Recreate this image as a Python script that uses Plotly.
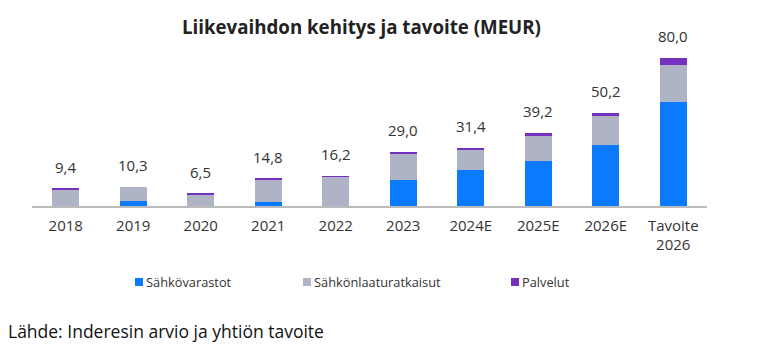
import plotly.graph_objects as go

# Revenue development by segment (MEUR)
categories = ["2018", "2019", "2020", "2021", "2022", "2023",
              "2024E", "2025E", "2026E", "Tavoite<br>2026"]
storage = [0.0, 2.7, 0.0, 2.2, 0.0, 14.0, 19.6, 24.5, 33.2, 56.0]
power_quality = [9.1, 7.6, 6.2, 12.3, 15.9, 14.5, 11.0, 13.6, 15.2, 20.0]
services = [0.3, 0.0, 0.3, 0.3, 0.3, 0.5, 0.8, 1.1, 1.8, 4.0]
totals = [9.4, 10.3, 6.5, 14.8, 16.2, 29.0, 31.4, 39.2, 50.2, 80.0]

series_names = ["Sähkövarastot", "Sähkönlaaturatkaisut", "Palvelut"]
series_colors = ["#0A7BFF", "#AEB3C5", "#7431BF"]

FONT = "Open Sans"
W, H = 784, 345
ML, MR, MT, MB = 32, 77, 40, 139
PW, PH = W - ML - MR, H - MT - MB

fig = go.Figure()
for name, vals, col in zip(series_names, [storage, power_quality, services], series_colors):
    fig.add_trace(go.Bar(x=categories, y=vals, name=name, marker_color=col,
                         marker_line_width=0, width=0.4, showlegend=False))

# total labels above each stack (category positions by index)
for i, tot in enumerate(totals):
    fig.add_annotation(x=i, y=tot, text=f"{tot:.1f}".replace(".", ","),
                       showarrow=False, yanchor="middle", yshift=22,
                       font=dict(family=FONT, size=15, color="#333333"))

def px_x(p):
    return (p - ML) / PW

def px_y(p):
    return (H - MB - p) / PH

# legend row
legend_x = [135, 303, 511]
legend_y = 282
for name, col, lx in zip(series_names, series_colors, legend_x):
    fig.add_shape(type="rect", xref="paper", yref="paper",
                  xsizemode="pixel", ysizemode="pixel",
                  xanchor=px_x(lx), yanchor=px_y(legend_y),
                  x0=0, x1=8, y0=-4, y1=4,
                  fillcolor=col, line_width=0)
    fig.add_annotation(xref="paper", yref="paper", x=px_x(lx + 9), y=px_y(legend_y),
                       xanchor="left", yanchor="middle", showarrow=False,
                       text=name, font=dict(family=FONT, size=12.8, color="#333333"))

# source note
fig.add_annotation(xref="paper", yref="paper", x=px_x(6), y=px_y(331),
                   xanchor="left", yanchor="middle", showarrow=False,
                   text="Lähde: Inderesin arvio ja yhtiön tavoite",
                   font=dict(family=FONT, size=17.5, color="#111111"))

# title
fig.add_annotation(xref="paper", yref="paper", x=px_x(361), y=px_y(26),
                   xanchor="center", yanchor="middle", showarrow=False,
                   text="<b>Liikevaihdon kehitys ja tavoite (MEUR)</b>",
                   font=dict(family=FONT, size=18.7, color="#222222"))

fig.update_layout(
    barmode="stack",
    width=W, height=H,
    margin=dict(l=ML, r=MR, t=MT, b=MB),
    plot_bgcolor="white", paper_bgcolor="white",
    xaxis=dict(type="category", range=[-0.5, len(categories) - 0.5],
               showgrid=False, showline=True,
               linecolor="#BBBBBB", linewidth=1.5,
               ticks="", ticklabelstandoff=5,
               tickfont=dict(family=FONT, size=15, color="#333333"),
               fixedrange=True),
    yaxis=dict(range=[0, PH / 1.85], visible=False, fixedrange=True),
)

fig.write_html("out.html")
